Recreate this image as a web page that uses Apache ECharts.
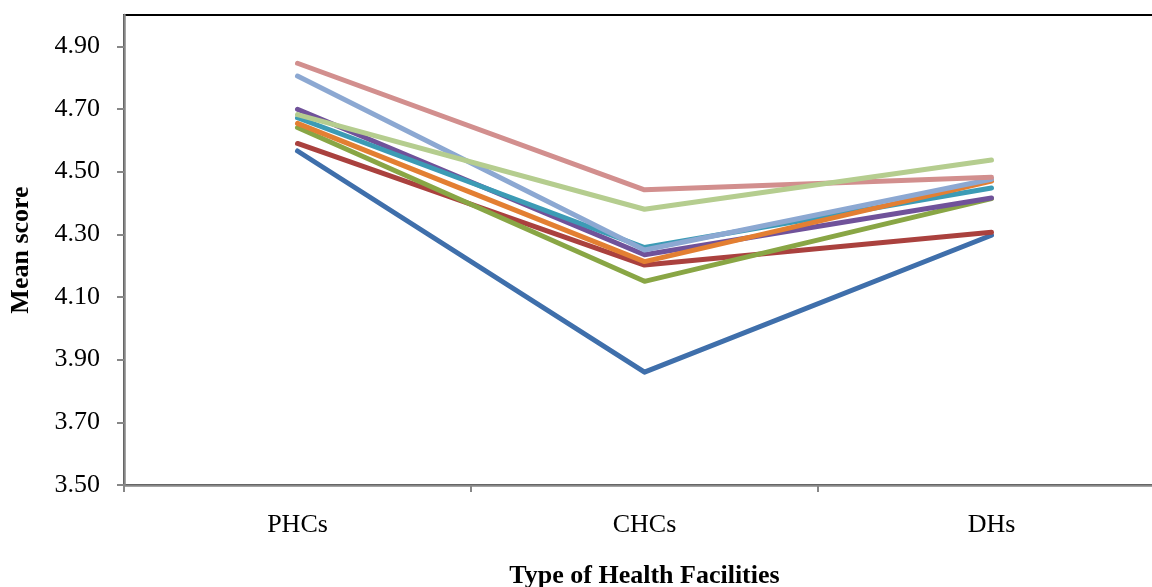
<!DOCTYPE html>
<html>
<head>
<meta charset="utf-8">
<script src="https://cdn.jsdelivr.net/npm/echarts@6/dist/echarts.min.js"></script>
<style>
  html, body { margin: 0; padding: 0; background: #fff; }
  #chart { width: 1152px; height: 587px; }
</style>
</head>
<body>
<div id="chart"></div>
<script>
// Facility types along the x axis
const categories = ['PHCs', 'CHCs', 'DHs'];

// Mean score per dimension, one array per line (PHCs, CHCs, DHs)
const seriesBlue       = [4.566, 3.860, 4.297];
const seriesRed        = [4.590, 4.202, 4.307];
const seriesGreen      = [4.641, 4.150, 4.414];
const seriesPurple     = [4.699, 4.235, 4.416];
const seriesTeal       = [4.672, 4.258, 4.448];
const seriesOrange     = [4.654, 4.213, 4.470];
const seriesLightBlue  = [4.805, 4.250, 4.476];
const seriesPink       = [4.846, 4.442, 4.482];
const seriesLightGreen = [4.682, 4.380, 4.537];

// Y axis tick positions
const yTicks = [3.5, 3.7, 3.9, 4.1, 4.3, 4.5, 4.7, 4.9];

const lines = [
  { data: seriesBlue,       color: '#3F6FAB' },
  { data: seriesRed,        color: '#AA413E' },
  { data: seriesGreen,      color: '#89A645' },
  { data: seriesPurple,     color: '#70529A' },
  { data: seriesTeal,       color: '#3C9BB5' },
  { data: seriesOrange,     color: '#E37F32' },
  { data: seriesLightBlue,  color: '#8CA8D2' },
  { data: seriesPink,       color: '#D28F8E' },
  { data: seriesLightGreen, color: '#B5CD8F' }
];

const FONT = "'Liberation Serif', 'Times New Roman', serif";

const chart = echarts.init(document.getElementById('chart'), null, { renderer: 'canvas' });

chart.setOption({
  animation: false,
  backgroundColor: '#ffffff',
  grid: {
    left: 124,
    top: 15,
    width: 1041,
    bottom: 102,
    containLabel: false,
    outerBoundsMode: 'none',
    show: true,
    borderColor: '#000000',
    borderWidth: 2,
    backgroundColor: 'transparent'
  },
  xAxis: {
    type: 'category',
    data: categories,
    boundaryGap: true,
    name: 'Type of Health Facilities',
    nameLocation: 'middle',
    nameGap: 78,
    nameTextStyle: { fontFamily: FONT, fontSize: 26, fontWeight: 'bold', color: '#000' },
    axisLine: { lineStyle: { color: '#878787', width: 2.5 } },
    axisTick: { show: true, alignWithLabel: false, length: 7, lineStyle: { color: '#878787', width: 2 } },
    axisLabel: { fontFamily: FONT, fontSize: 26, color: '#000', margin: 27 },
    splitLine: { show: false }
  },
  yAxis: {
    type: 'value',
    min: 3.5,
    max: 5.0,
    interval: 0.2,
    name: 'Mean score',
    nameLocation: 'middle',
    nameGap: 90,
    nameRotate: 90,
    nameTextStyle: { fontFamily: FONT, fontSize: 26, fontWeight: 'bold', color: '#000' },
    axisLine: { show: true, lineStyle: { color: '#878787', width: 2.5 } },
    axisTick: { show: true, length: 7, customValues: yTicks, lineStyle: { color: '#878787', width: 2 } },
    axisLabel: {
      fontFamily: FONT, fontSize: 26, color: '#000', margin: 24,
      customValues: yTicks,
      formatter: v => v.toFixed(2)
    },
    splitLine: { show: false }
  },
  series: lines.map(l => ({
    type: 'line',
    data: l.data,
    showSymbol: false,
    symbol: 'none',
    lineStyle: { color: l.color, width: 5, cap: 'round', join: 'round' },
    itemStyle: { color: l.color }
  }))
});
</script>
</body>
</html>
